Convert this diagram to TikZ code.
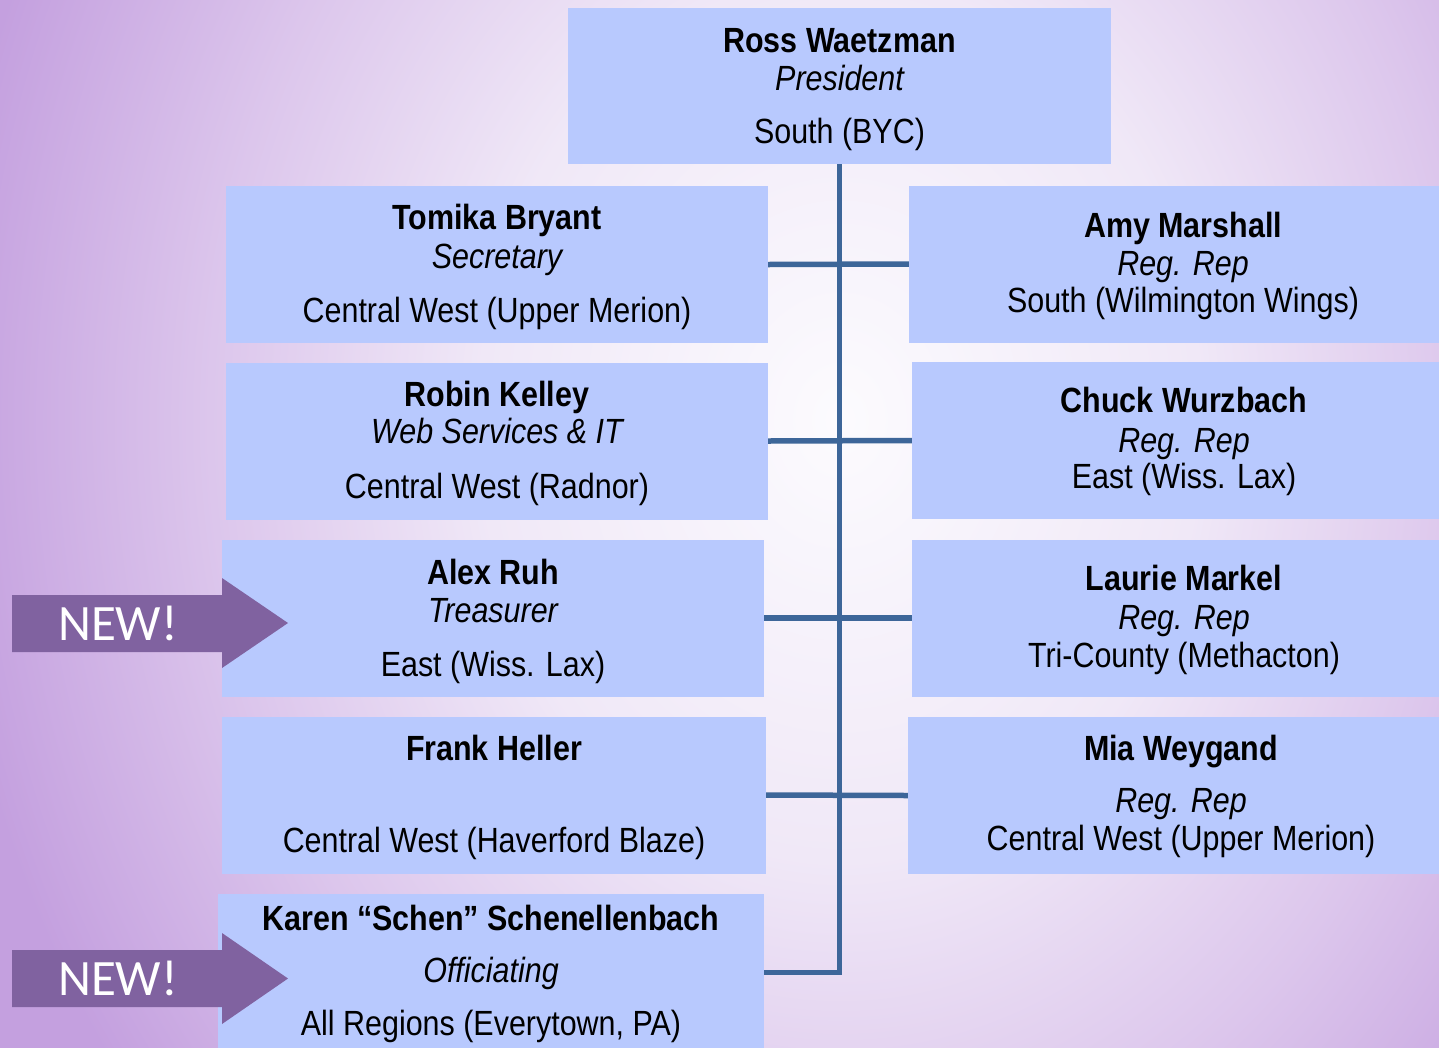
\documentclass[tikz,border=0pt]{standalone}
\usepackage{fontspec}
\setmainfont{Liberation Sans}[FakeStretch=0.87]
\newfontfamily\newfnt{Carlito}
\definecolor{boxc}{HTML}{B8C9FE}
\definecolor{linec}{HTML}{3D6699}
\definecolor{newc}{HTML}{8062A0}
\definecolor{bgA}{HTML}{FCFBFE}
\definecolor{bgB}{HTML}{F0E8F7}
\definecolor{bgC}{HTML}{DCC6EC}
\definecolor{bgD}{HTML}{C4A0DF}
\pgfdeclareradialshading{bgshade}{\pgfpoint{0bp}{0bp}}{color(0bp)=(bgA); color(10bp)=(bgB); color(17.5bp)=(bgC); color(25bp)=(bgD); color(50bp)=(bgD)}
\begin{document}
\begin{tikzpicture}[x=1pt,y=-1pt,
  box/.style={fill=boxc, draw=none, inner sep=0pt, minimum height=157pt},
  txt/.style={anchor=base, inner sep=0pt, text=black, font=\fontsize{35}{40}\selectfont},
  nm/.style={txt, font=\fontsize{35}{40}\selectfont\bfseries},
  rl/.style={txt, font=\fontsize{35}{40}\selectfont\itshape},
  conn/.style={draw=linec, line width=5.5pt, line join=miter},
  newarrow/.style={fill=newc, draw=none},
  newtxt/.style={anchor=base, inner sep=0pt, text=white, font=\newfnt\fontsize{51}{60}\selectfont}]
\useasboundingbox (0,0) rectangle (1439,1047);
\clip (-3,-3) rectangle (1442,1050);
% background
\fill[bgD] (-3,-3) rectangle (1442,1050);
\shade[shading=bgshade] (840,420) ellipse [x radius=900pt, y radius=1100pt];

% boxes
\node[box, minimum width=543pt, minimum height=156pt] (pres) at (839.5,86) {};
\node[box, minimum width=542pt] (tomika) at (497,264.5) {};
\node[box, minimum width=542pt] (robin) at (497,441) {};
\node[box, minimum width=542pt] (alex) at (493,618) {};
\node[box, minimum width=544pt] (frank) at (494,795) {};
\node[box, minimum width=546pt] (karen) at (491,972.5) {};
\node[box, minimum width=546pt] (amy) at (1182,264) {};
\node[box, minimum width=546pt] (chuck) at (1185,440.5) {};
\node[box, minimum width=546pt] (laurie) at (1185,618) {};
\node[box, minimum width=546pt] (mia) at (1181,795.5) {};

% connectors
\draw[conn] (pres.south) -- (pres.south |- karen.east) -- (karen.east);
\draw[conn] (tomika.east) -- (amy.west);
\draw[conn] (robin.east) -- (chuck.west);
\draw[conn] (alex.east) -- (laurie.west);
\draw[conn] (frank.east) -- (mia.west);

% texts
\node[nm] (pres-n) at (839.5,52) {Ross Waetzman};
\node[rl] (pres-r) at (839.5,90) {President};
\node[txt] (pres-a) at (839.5,143) {South (BYC)};

\node[nm] (tomika-n) at (497,229) {Tomika Bryant};
\node[rl] (tomika-r) at (497,268) {Secretary};
\node[txt] (tomika-a) at (497,322) {Central West (Upper Merion)};

\node[nm] (robin-n) at (497,406) {Robin Kelley};
\node[rl] (robin-r) at (497,443) {Web Services \& IT};
\node[txt] (robin-a) at (497,498) {Central West (Radnor)};

\node[nm] (alex-n) at (493,584) {Alex Ruh};
\node[rl] (alex-r) at (493,622) {Treasurer};
\node[txt] (alex-a) at (493,676) {East (Wiss. Lax)};

\node[nm] (frank-n) at (494,760) {Frank Heller};
\node[txt] (frank-a) at (494,852) {Central West (Haverford Blaze)};

\node[nm] (karen-n) at (491,930) {Karen “Schen” Schenellenbach};
\node[rl] (karen-r) at (491,982) {Officiating};
\node[txt] (karen-a) at (491,1035) {All Regions (Everytown, PA)};

\node[nm] (amy-n) at (1183,237) {Amy Marshall};
\node[rl] (amy-r) at (1183,275) {Reg. Rep};
\node[txt] (amy-a) at (1183,312) {South (Wilmington Wings)};

\node[nm] (chuck-n) at (1184,412) {Chuck Wurzbach};
\node[rl] (chuck-r) at (1184,452) {Reg. Rep};
\node[txt] (chuck-a) at (1184,488) {East (Wiss. Lax)};

\node[nm] (laurie-n) at (1184,590) {Laurie Markel};
\node[rl] (laurie-r) at (1184,629) {Reg. Rep};
\node[txt] (laurie-a) at (1184,667) {Tri-County (Methacton)};

\node[nm] (mia-n) at (1181,760) {Mia Weygand};
\node[rl] (mia-r) at (1181,812) {Reg. Rep};
\node[txt] (mia-a) at (1181,850) {Central West (Upper Merion)};

% NEW! arrows
\fill[newarrow] (12,595) -- (222,595) -- (222,578) -- (288,623) -- (222,668) -- (222,652) -- (12,652) -- cycle;
\node[newtxt] (new1) at (118,640) {NEW!};
\fill[newarrow] (12,950) -- (222,950) -- (222,933) -- (288,978.5) -- (222,1024) -- (222,1007) -- (12,1007) -- cycle;
\node[newtxt] (new2) at (118,995) {NEW!};
\end{tikzpicture}
\end{document}
